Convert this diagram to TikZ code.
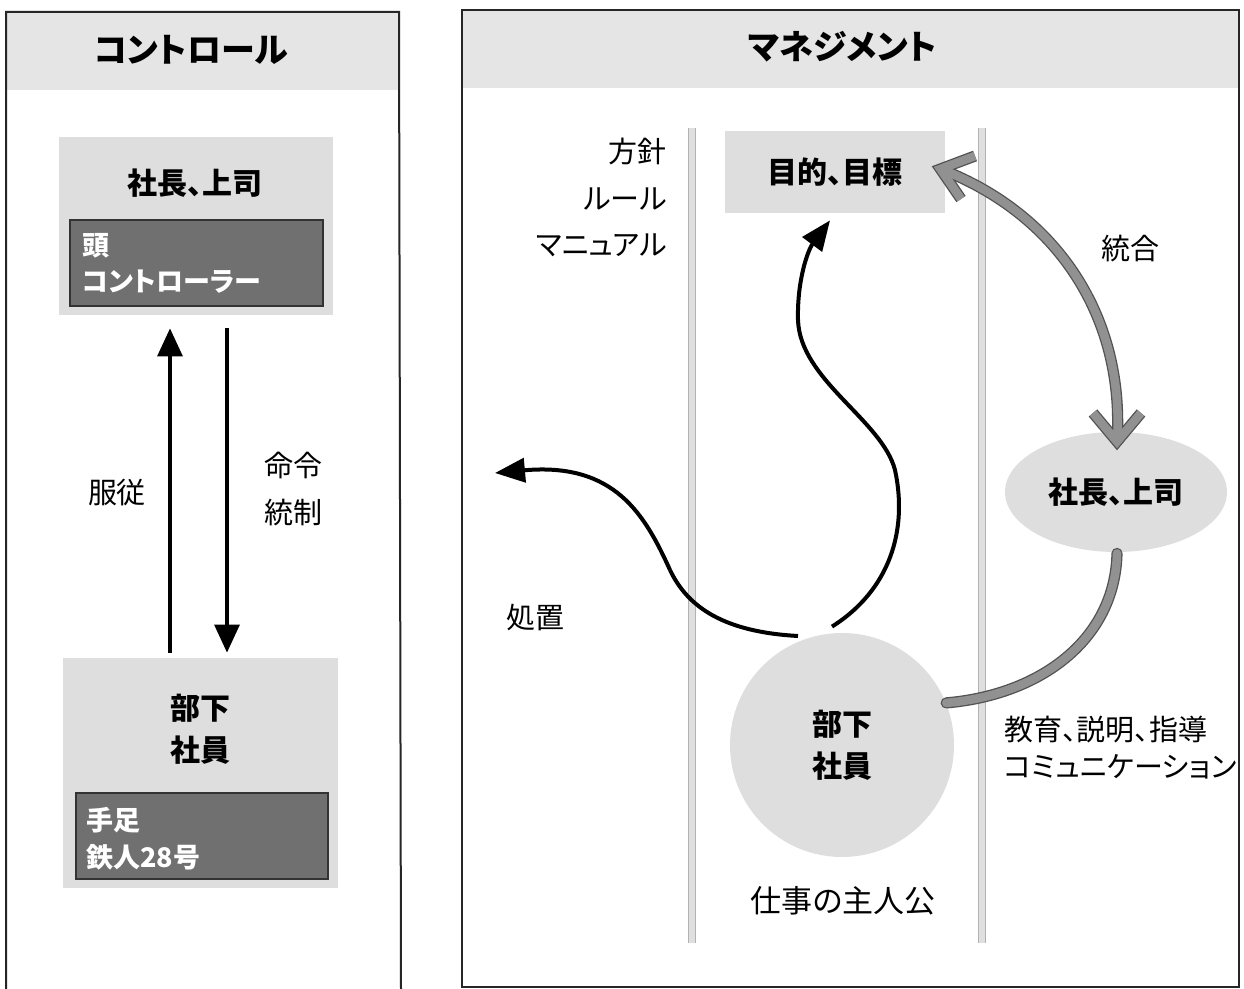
\documentclass[tikz,border=0pt]{standalone}
\usepackage{fontspec}
\setmainfont{Noto Sans CJK JP}[RawFeature=+palt]
\usetikzlibrary{arrows.meta,shapes.geometric,calc}
\definecolor{band}{gray}{0.90}
\definecolor{boxgray}{gray}{0.87}
\definecolor{darkbox}{gray}{0.44}
\definecolor{pipeout}{gray}{0.32}
\definecolor{pipein}{gray}{0.57}
\tikzset{
  panel/.style={draw=black!85, line width=1pt},
  ttl/.style={font=\fontsize{17}{20}\selectfont\bfseries, inner sep=0pt},
  lbox/.style={fill=boxgray, draw=none, inner sep=0pt},
  dbox/.style={fill=darkbox, draw=black!80, line width=0.6pt, inner sep=0pt},
  btxt/.style={font=\fontsize{15}{21}\selectfont\bfseries, inner sep=0pt, align=center},
  wtxt/.style={font=\fontsize{13.5}{16}\selectfont\bfseries, text=white, inner sep=0pt, anchor=west},
  ntxt/.style={font=\fontsize{14.5}{18}\selectfont, inner sep=0pt},
  ell/.style={ellipse, fill=boxgray, inner sep=0pt, align=center},
  larr/.style={line width=1.6pt, -{Triangle[length=14pt,width=12.5pt]}},
  barr/.style={line width=2pt, -{Triangle[length=15pt,width=12pt]}},
  pipeo/.style={line width=5.6pt, draw=pipeout, line join=miter},
  pipei/.style={line width=4.3pt, draw=pipein, line join=miter},
  vl/.style={draw=gray!60, line width=0.5pt, double=gray!25, double distance=2.6pt}
}
\begin{document}
\begin{tikzpicture}[x=0.5pt,y=-0.5pt]
\useasboundingbox (0,0) rectangle (1244,989);
\fill[white] (0,0) rectangle (1244,989);

% ---------- left panel ----------
\fill[band] (6,12) rectangle (399,90);
\draw[panel] (6,989) -- (6,12) -- (399,12) -- (401,989);
\node[ttl] (tL) at (191,50) {コントロール};

\node[lbox, minimum width=137pt, minimum height=89pt] (bossL) at (196,226) {};
\node[dbox, minimum width=126.5pt, minimum height=43pt] (headL) at (196.5,263) {};
\node[btxt] (bossLt) at (195,183) {社長、上司};
\node[wtxt] (h1) at (82,246) {頭};
\node[wtxt] (h2) at (82,282) {コントローラー};

\node[lbox, minimum width=137.5pt, minimum height=115pt] (subL) at (200.5,773) {};
\node[dbox, minimum width=126pt, minimum height=43pt] (limbL) at (202,836) {};
\node[btxt] (subLt) at (200,729) {部下\\社員};
\node[wtxt] (l1) at (86,820) {手足};
\node[wtxt] (l2) at (86,857) {鉄人28号};

\draw[larr] ($(subL.north)+(-30.5,-5)$) -- ($(bossL.south)+(-26,13)$);
\draw[larr] ($(bossL.south)+(31,13)$) -- ($(subL.north)+(26.5,-5)$);
\node[ntxt] (obey) at (117,493) {服従};
\node[ntxt] (cmd1) at (293,465) {命令};
\node[ntxt] (cmd2) at (293,513) {統制};

% ---------- right panel ----------
\fill[band] (462,10) rectangle (1239,88);
\draw[panel] (462,10) rectangle (1239,987);
\node[ttl] (tR) at (842,47) {マネジメント};

\draw[vl] (692,128) -- (692,943);
\draw[vl] (982,128) -- (982,943);

\node[lbox, btxt, minimum width=110pt, minimum height=41pt] (goal) at (835,172) {目的、目標};
\node[ntxt, anchor=east] (r1) at (667,152) {方針};
\node[ntxt, anchor=east] (r2) at (667,199) {ルール};
\node[ntxt, anchor=east] (r3) at (667,245) {マニュアル};

\node[ell, btxt, minimum width=111pt, minimum height=60pt] (bossR) at (1116,492) {社長、上司};
\node[ell, btxt, minimum width=112pt, minimum height=112pt] (subR) at (842,745) {部下\\社員};

\node[ntxt] (integ) at (1130,249) {統合};
\node[ntxt] (disp) at (535,618) {処置};
\node[ntxt, font=\fontsize{15.5}{18}\selectfont] (hero) at (843,901) {仕事の主人公};
\node[ntxt, anchor=west] (edu1) at (1004,730) {教育、説明、指導};
\node[ntxt, anchor=west] (edu2) at (1004,767) {コミュニケーション};

% gray pipes
\coordinate (gTip) at ($(goal.east)+(-5,-3)$);
\coordinate (bTip) at ($(bossR.north)+(1,10)$);
\coordinate (gA) at (975,156);
\coordinate (gB) at (961,199);
\coordinate (bA) at (1093,413);
\coordinate (bB) at (1141,413);
\coordinate (lowS) at ($(bossR.south)+(1,1)$);
\draw[pipeo, line cap=butt] (gTip) .. controls (1060,215) and (1125,320) .. (bTip);
\draw[pipeo, line cap=butt] (gA) -- (gTip) -- (gB);
\draw[pipeo, line cap=butt] (bA) -- (bTip) -- (bB);
\draw[pipeo, line cap=round] (lowS) .. controls (1115,640) and (1040,695) .. (subR.22);
\draw[pipei, line cap=butt] (gTip) .. controls (1060,215) and (1125,320) .. (bTip);
\draw[pipei, line cap=butt] (gA) -- (gTip) -- (gB);
\draw[pipei, line cap=butt] (bA) -- (bTip) -- (bB);
\draw[pipei, line cap=round] (lowS) .. controls (1115,640) and (1040,695) .. (subR.22);

% black curves
\coordinate (c1) at ($(subR.north)+(-10,-6)$);
\coordinate (c1a) at (895,470);
\coordinate (c1b) at (798,320);
\draw[line width=2pt] (c1) .. controls (890,590) and (908,530) .. (c1a)
   .. controls (882,420) and (800,380) .. (c1b);
\draw[barr] (c1b) .. controls (797,280) and (808,250) .. ($(goal.south)+(-5,7)$);
\coordinate (c2) at (798,636);
\coordinate (c2a) at (670,570);
\coordinate (c2e) at (495,473);
\draw[line width=2pt] (c2) .. controls (725,632) and (688,608) .. (c2a);
\draw[barr] (c2a) .. controls (645,515) and (615,462) .. (c2e);
\end{tikzpicture}
\end{document}
